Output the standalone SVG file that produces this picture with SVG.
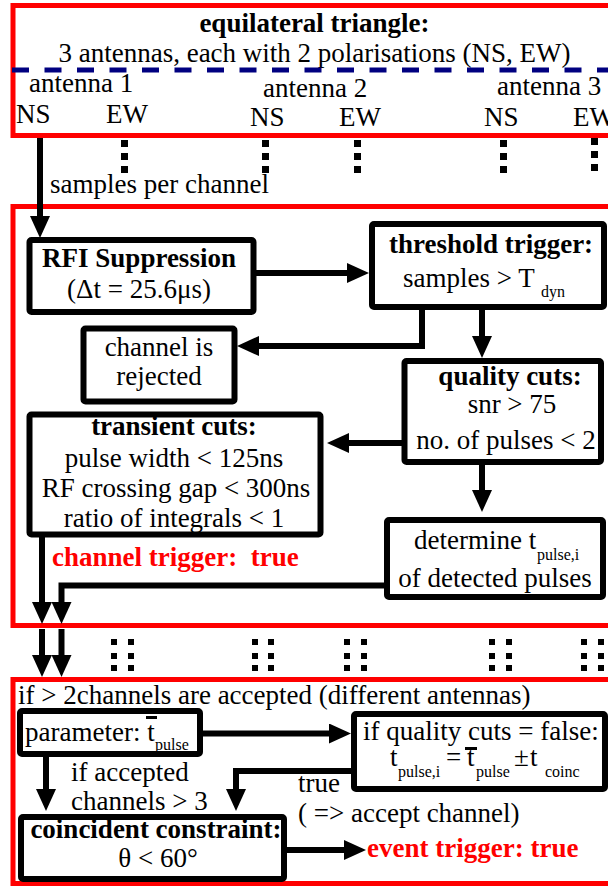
<svg xmlns="http://www.w3.org/2000/svg" width="608" height="886" viewBox="0 0 608 886">
<style>
text{font-family:"Liberation Serif","Times New Roman",serif;font-size:27px;fill:#000}
.b{font-weight:bold}
.m{text-anchor:middle}
.sub{font-size:16px}
.red{fill:#ff0000}
.sec{fill:none;stroke:#ff0000;stroke-width:5}
.box{fill:#fff;stroke:#000;stroke-width:6}
.con{fill:none;stroke:#000;stroke-width:6;stroke-linejoin:miter}
.arr{marker-end:url(#ah)}
.dot{fill:#000}
</style>
<defs>
<marker id="ah" markerUnits="userSpaceOnUse" markerWidth="22" markerHeight="20" viewBox="0 0 22 20" refX="2" refY="10" orient="auto">
<path d="M0,0 L22,10 L0,20 z" fill="#000"/>
</marker>
</defs>
<rect width="608" height="886" fill="#fff"/>

<g id="antennas">
<rect class="sec" x="13" y="5.5" width="615" height="130"/>
<text class="b m" x="314.5" y="32">equilateral triangle:</text>
<text class="m" x="314.5" y="62">3 antennas, each with 2 polarisations (NS, EW)</text>
<line x1="12" y1="70" x2="608" y2="70" stroke="#000080" stroke-width="5" stroke-dasharray="17 15.5"/>
<text x="29" y="92">antenna 1</text>
<text x="263" y="97">antenna 2</text>
<text x="497" y="95">antenna 3</text>
<text x="16" y="123">NS</text>
<text x="106" y="123">EW</text>
<text x="250" y="126">NS</text>
<text x="339" y="126">EW</text>
<text x="484" y="126">NS</text>
<text x="573" y="126">EW</text>
</g>

<g id="channel-dots">
<rect class="dot" x="121" y="140" width="7" height="7"/><rect class="dot" x="121" y="153" width="7" height="7"/><rect class="dot" x="121" y="166" width="7" height="7"/>
<rect class="dot" x="262" y="140" width="7" height="7"/><rect class="dot" x="262" y="153" width="7" height="7"/><rect class="dot" x="262" y="166" width="7" height="7"/>
<rect class="dot" x="354" y="140" width="7" height="7"/><rect class="dot" x="354" y="153" width="7" height="7"/><rect class="dot" x="354" y="166" width="7" height="7"/>
<rect class="dot" x="500" y="140" width="7" height="7"/><rect class="dot" x="500" y="153" width="7" height="7"/><rect class="dot" x="500" y="166" width="7" height="7"/>
<rect class="dot" x="591" y="138" width="7" height="7"/><rect class="dot" x="591" y="151" width="7" height="7"/><rect class="dot" x="591" y="164" width="7" height="7"/>

<g id="dots2">
<rect class="dot" x="111" y="639" width="6" height="6"/><rect class="dot" x="128" y="639" width="6" height="6"/>
<rect class="dot" x="111" y="653" width="6" height="6"/><rect class="dot" x="128" y="653" width="6" height="6"/>
<rect class="dot" x="111" y="665" width="6" height="6"/><rect class="dot" x="128" y="665" width="6" height="6"/>
<rect class="dot" x="252" y="639" width="6" height="6"/><rect class="dot" x="268" y="639" width="6" height="6"/>
<rect class="dot" x="252" y="653" width="6" height="6"/><rect class="dot" x="268" y="653" width="6" height="6"/>
<rect class="dot" x="252" y="665" width="6" height="6"/><rect class="dot" x="268" y="665" width="6" height="6"/>
<rect class="dot" x="344" y="639" width="6" height="6"/><rect class="dot" x="361" y="639" width="6" height="6"/>
<rect class="dot" x="344" y="653" width="6" height="6"/><rect class="dot" x="361" y="653" width="6" height="6"/>
<rect class="dot" x="344" y="665" width="6" height="6"/><rect class="dot" x="361" y="665" width="6" height="6"/>
<rect class="dot" x="489" y="639" width="6" height="6"/><rect class="dot" x="506" y="639" width="6" height="6"/>
<rect class="dot" x="489" y="653" width="6" height="6"/><rect class="dot" x="506" y="653" width="6" height="6"/>
<rect class="dot" x="489" y="665" width="6" height="6"/><rect class="dot" x="506" y="665" width="6" height="6"/>
<rect class="dot" x="581" y="639" width="6" height="6"/><rect class="dot" x="598" y="639" width="6" height="6"/>
<rect class="dot" x="581" y="653" width="6" height="6"/><rect class="dot" x="598" y="653" width="6" height="6"/>
<rect class="dot" x="581" y="665" width="6" height="6"/><rect class="dot" x="598" y="665" width="6" height="6"/>
</g>
</g>

<g id="channel-section">
<rect class="sec" x="13" y="206.5" width="615" height="419"/>
<text x="50" y="193">samples per channel</text>
<text class="b red" x="52" y="566">channel trigger:&#160; true</text>
</g>

<g id="rfi">
<rect class="box" x="29.5" y="240" width="224" height="72" rx="2"/>
<text class="b m" x="139" y="267">RFI Suppression</text>
<text class="m" x="139" y="298">(Δt = 25.6μs)</text>
</g>

<g id="threshold">
<rect class="box" x="372" y="224" width="232" height="83" rx="2"/>
<text class="b m" x="491" y="253">threshold trigger:</text>
<text x="403" y="287">samples &gt; T<tspan class="sub" x="541" y="297">dyn</tspan></text>
</g>

<g id="rejected">
<rect class="box" x="83.5" y="328.5" width="151" height="73" rx="2"/>
<text class="m" x="159" y="356">channel is</text>
<text class="m" x="159" y="385">rejected</text>
</g>

<g id="quality">
<rect class="box" x="404.5" y="361" width="196.5" height="101" rx="2"/>
<text class="b m" x="510" y="385">quality cuts:</text>
<text class="m" x="512" y="413">snr &gt; 75</text>
<text class="m" x="506" y="449">no. of pulses &lt; 2</text>
</g>

<g id="transient">
<rect class="box" x="29.5" y="414.5" width="291" height="120" rx="2"/>
<text class="b m" x="174" y="435">transient cuts:</text>
<text class="m" x="174" y="467">pulse width &lt; 125ns</text>
<text class="m" x="176" y="497">RF crossing gap &lt; 300ns</text>
<text class="m" x="174" y="527">ratio of integrals &lt; 1</text>
</g>

<g id="determine">
<rect class="box" x="387" y="520" width="216" height="77" rx="2"/>
<text x="414" y="549">determine t<tspan class="sub" x="537" y="560">pulse,i</tspan></text>
<text class="m" x="495" y="587">of detected pulses</text>
</g>

<g id="event-section">
<rect class="sec" x="13" y="679.5" width="615" height="204"/>
<text x="18" y="704">if &gt; 2channels are accepted (different antennas)</text>
<text x="71" y="781">if accepted</text>
<text x="71" y="810">channels &gt; 3</text>
<text x="298" y="792">true</text>
<text x="298" y="822">( =&gt; accept channel)</text>
<text class="b red" x="367" y="857">event trigger: true</text>
</g>

<g id="parameter">
<rect class="box" x="20" y="711" width="180" height="43" rx="2"/>
<text x="25" y="741">parameter: t<tspan class="sub" x="155" y="750">pulse</tspan></text>
<rect x="146" y="716" width="11" height="3" fill="#000"/>
</g>

<g id="coinc-window">
<rect class="box" x="354" y="714" width="251" height="75" rx="2"/>
<text x="363" y="740">if quality cuts = false:</text>
<text x="390" y="766">t<tspan class="sub" x="398" y="777">pulse,i</tspan><tspan x="446" y="766">=</tspan><tspan x="467" y="766">t</tspan><tspan class="sub" x="476" y="777">pulse</tspan><tspan x="514" y="766">±</tspan><tspan x="530" y="766">t</tspan><tspan class="sub" x="545" y="777">coinc</tspan></text>
<rect x="465" y="747" width="12" height="3" fill="#000"/>
</g>

<g id="coincident">
<rect class="box" x="21" y="817" width="263" height="62" rx="2"/>
<text class="b m" x="156" y="838">coincident constraint:</text>
<text class="m" x="158" y="867">θ &lt; 60°</text>
</g>

<g id="connectors">
<path class="con arr" d="M40,138 V218"/>
<path class="con arr" d="M256,273 H349"/>
<path class="con arr" d="M422,307 V346 H257"/>
<path class="con arr" d="M482,307 V338"/>
<path class="con arr" d="M404,443 H347"/>
<path class="con arr" d="M482,462 V492"/>
<path class="con arr" d="M42,537 V604"/>
<path class="con arr" d="M387,585.5 H61.5 V604"/>
<path class="con arr" d="M42,629 V657"/>
<path class="con arr" d="M61.5,629 V657"/>
<path class="con arr" d="M203,733.5 H331"/>
<path class="con arr" d="M46,757 V791"/>
<path class="con arr" d="M354,771 H236 V791"/>
<path class="con arr" d="M287,850 H346"/>
</g>
</svg>
